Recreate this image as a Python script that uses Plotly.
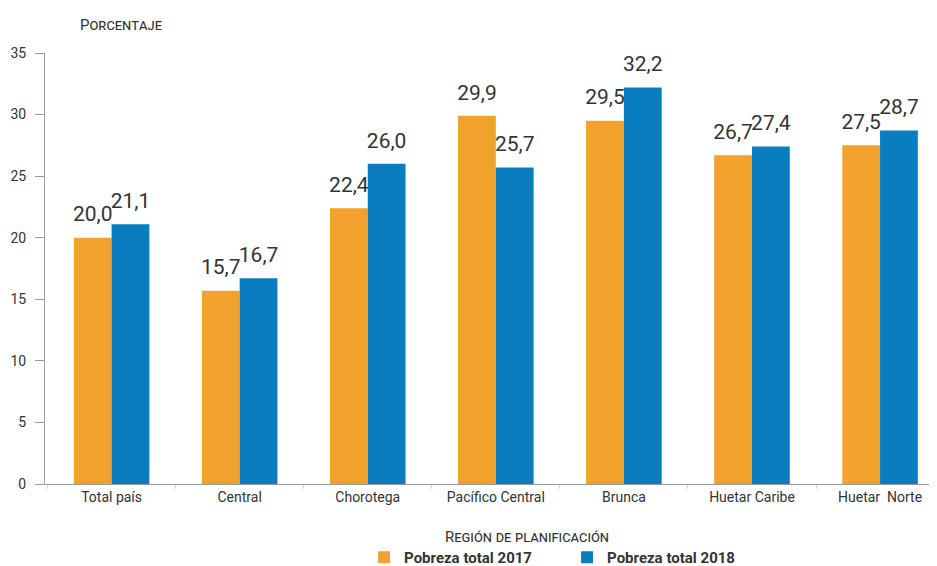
import plotly.graph_objects as go

categories = ["Total país", "Central", "Chorotega", "Pacífico Central", "Brunca", "Huetar Caribe", "Huetar  Norte"]
pobreza_2017 = [20.0, 15.7, 22.4, 29.9, 29.5, 26.7, 27.5]
pobreza_2018 = [21.1, 16.7, 26.0, 25.7, 32.2, 27.4, 28.7]
y_ticks = [0, 5, 10, 15, 20, 25, 30, 35]

FONT = "Roboto, Noto Sans, sans-serif"
ORANGE = "#F2A22C"
BLUE = "#0A7CC0"

def fmt(v):
    return f"{v:.1f}".replace(".", ",")

fig = go.Figure()
for name, vals, color in [("<b>Pobreza total 2017</b>", pobreza_2017, ORANGE),
                          ("<b>Pobreza total 2018</b>", pobreza_2018, BLUE)]:
    fig.add_trace(go.Bar(
        x=categories, y=vals, name=name,
        marker=dict(color=color, line=dict(width=0)),
    ))
for vals in [pobreza_2017, pobreza_2018]:
    fig.add_trace(go.Scatter(
        x=categories, y=vals, mode="markers+text",
        marker=dict(size=16, opacity=0),
        text=[fmt(v) for v in vals], textposition="top center",
        textfont=dict(size=21, color="#333333", family=FONT),
        cliponaxis=False, showlegend=False, hoverinfo="skip",
    ))

fig.update_layout(
    width=937, height=566,
    margin=dict(l=37, r=15, t=45, b=90, autoexpand=False),
    paper_bgcolor="white", plot_bgcolor="white",
    barmode="group", bargap=0.41, bargroupgap=0,
    scattermode="group", scattergap=0.41,
    font=dict(family=FONT, color="#333333", size=14),
    showlegend=True,
    legend=dict(orientation="h", xref="container", yref="container",
                x=0.38, y=0.0, xanchor="left", yanchor="bottom",
                font=dict(size=15, color="#333333", family=FONT),
                itemwidth=30, tracegroupgap=0,
                entrywidth=158, entrywidthmode="pixels"),
)
fig.update_xaxes(
    range=[-0.52, 6.39], showline=True, linecolor="#9a9a9a", linewidth=1,
    ticks="outside", tickson="boundaries", ticklen=4, tickcolor="#d8d8d8",
    showgrid=False, tickfont=dict(size=14, color="#333333"),
    title=None, automargin=False,
)
fig.update_yaxes(
    range=[0, 35], tickvals=y_ticks, showline=True, linecolor="#9a9a9a", linewidth=1,
    ticks="outside", ticklen=9, tickcolor="#9a9a9a", showgrid=False, zeroline=False,
    tickfont=dict(size=14, color="#333333"), ticklabelstandoff=6, automargin=False,
)

fig.add_annotation(
    text="Porcentaje",
    xref="paper", yref="paper", x=0.037, y=1.065, xanchor="left", yanchor="middle",
    showarrow=False, font=dict(family=FONT, color="#333333", size=15, variant="small-caps"),
)
fig.add_annotation(
    text="Región de planificación",
    xref="paper", yref="paper", x=0.545, y=-0.123, xanchor="center", yanchor="middle",
    showarrow=False, font=dict(family=FONT, color="#333333", size=15, variant="small-caps"),
)

fig.write_html("out.html")
